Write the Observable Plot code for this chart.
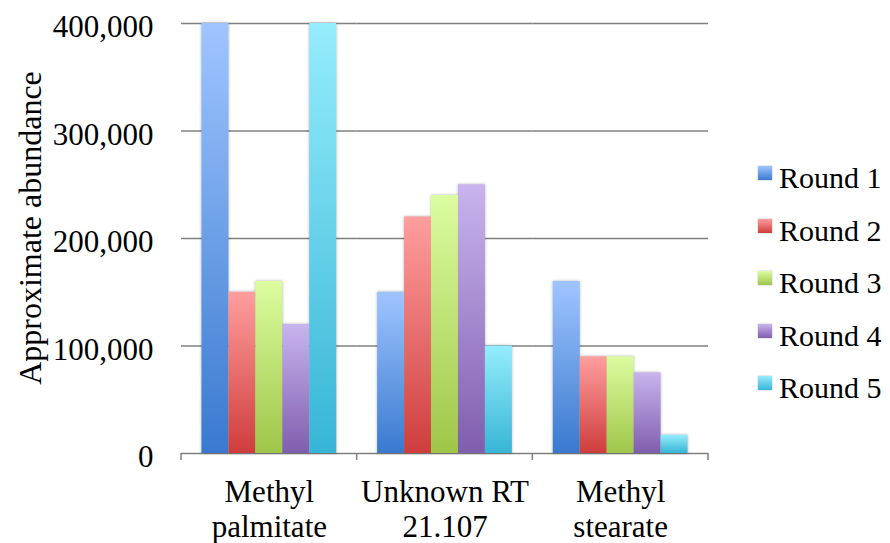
<!DOCTYPE html>
<html><head><meta charset="utf-8">
<script src="https://cdn.jsdelivr.net/npm/d3@7"></script>
<script src="https://cdn.jsdelivr.net/npm/@observablehq/plot@0.6"></script>
<style>
body{margin:0;background:#fff;}
#wrap{position:relative;width:890px;height:543px;overflow:hidden;font-family:"Liberation Serif","Times New Roman",serif;color:#000;}
#wrap svg text{font-family:"Liberation Serif","Times New Roman",serif;}
#ylabel{position:absolute;left:30px;top:228px;transform:translate(-50%,-50%) rotate(-90deg);font-size:32px;white-space:nowrap;line-height:1;}
#legend{position:absolute;left:758px;top:152px;font-size:30px;}
.row{position:relative;height:52.5px;line-height:52.5px;padding-left:21px;white-space:nowrap;}
.sw{position:absolute;left:0;top:14px;width:14px;height:14px;box-shadow:0 0 1.5px rgba(0,0,0,0.35);}
</style></head><body><div id="wrap"><div id="ylabel">Approximate abundance</div><div id="legend"></div></div>
<script>
const categories = ["Methyl palmitate", "Unknown RT 21.107", "Methyl stearate"];
const categoryLabels = ["Methyl\npalmitate", "Unknown RT\n21.107", "Methyl\nstearate"];
const rounds = ["Round 1", "Round 2", "Round 3", "Round 4", "Round 5"];
const round1 = [400000, 150000, 160000];
const round2 = [150000, 220000, 90000];
const round3 = [160000, 240000, 90000];
const round4 = [120000, 250000, 75000];
const round5 = [400000, 100000, 17000];
const yTicks = [0, 100000, 200000, 300000, 400000];
const topColors = ["#9fc5ff", "#ff9e9e", "#dcfca0", "#c9b4ee", "#95edfd"];
const bottomColors = ["#3a79cf", "#cf3d3d", "#9fc649", "#7f5eae", "#37b5d6"];

const seriesValues = [round1, round2, round3, round4, round5];
const data = [];
rounds.forEach((r, i) => categories.forEach((c, j) => data.push({category: c, round: r, value: seriesValues[i][j]})));

const serif = "Liberation Serif, Times New Roman, serif";
const plot = Plot.plot({
  width: 890,
  height: 543,
  marginLeft: 181,
  marginRight: 182,
  marginTop: 23,
  marginBottom: 90,
  style: {fontFamily: serif, fontSize: "31px", color: "#000", background: "transparent", overflow: "visible"},
  fx: {domain: categories, padding: 0, round: false},
  x: {domain: rounds, paddingInner: 0, paddingOuter: 0.76, round: false, axis: null},
  y: {domain: [0, 400000], axis: null},
  color: {domain: rounds, range: rounds.map((r, i) => `url(#grad${i})`)},
  marks: [
    Plot.ruleY(yTicks, {stroke: "#808080", strokeWidth: 1.5}),
    Plot.barY(data, {fx: "category", x: "round", y: "value", fill: "round", inset: 0}),
    Plot.axisY({ticks: yTicks, tickSize: 0, tickPadding: 28, tickFormat: d3.format(","), fontSize: 31, fontFamily: serif, dy: 4, label: null}),
    Plot.axisFx({anchor: "bottom", tickSize: 0, tickPadding: 24, fontSize: 31, fontFamily: serif, lineHeight: 1.13, tickFormat: d => categoryLabels[categories.indexOf(d)], label: null})
  ]
});

const svg = d3.select(plot);
const defs = svg.insert("defs", ":first-child");
rounds.forEach((r, i) => {
  const g = defs.append("linearGradient").attr("id", `grad${i}`).attr("x1", 0).attr("y1", 0).attr("x2", 0).attr("y2", 1);
  g.append("stop").attr("offset", "0%").attr("stop-color", topColors[i]);
  g.append("stop").attr("offset", "100%").attr("stop-color", bottomColors[i]);
});
svg.selectAll('g[aria-label="bar"]').style("filter", "drop-shadow(0px 0px 1.5px rgba(0,0,0,0.3))");

// tick marks at category boundaries on the baseline, from the fx scale
const fx = plot.scale("fx");
const y = plot.scale("y");
const y0 = y.apply(0);
const edges = categories.map(c => fx.apply(c)).concat([fx.apply(categories[categories.length - 1]) + fx.bandwidth]);
svg.append("g").selectAll("line").data(edges).join("line")
  .attr("x1", d => d).attr("x2", d => d).attr("y1", y0).attr("y2", y0 + 7)
  .attr("stroke", "#808080").attr("stroke-width", 1.5);

plot.style.position = "absolute";
plot.style.left = "0";
plot.style.top = "0";
document.getElementById("wrap").prepend(plot);

const legend = d3.select("#legend");
rounds.forEach((r, i) => {
  const row = legend.append("div").attr("class", "row");
  row.append("div").attr("class", "sw").style("background", `linear-gradient(${topColors[i]}, ${bottomColors[i]})`);
  row.append("span").text(r);
});
</script></body></html>
